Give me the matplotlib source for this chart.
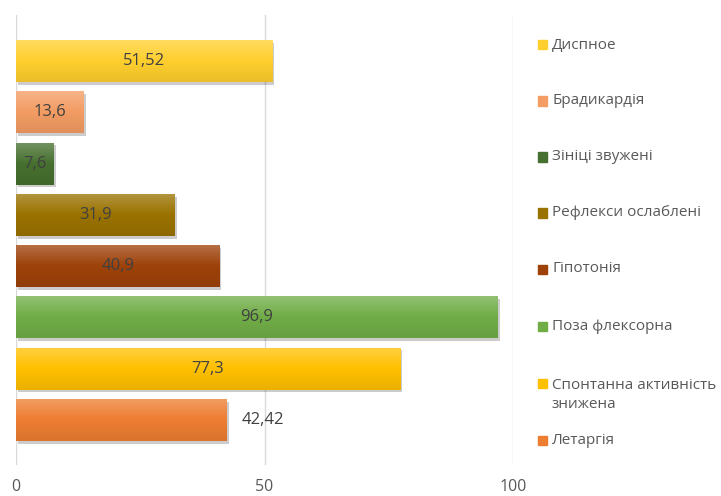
import numpy as np
import matplotlib
matplotlib.use("Agg")
import matplotlib.pyplot as plt
import matplotlib.colors as mcolors
from matplotlib.patches import Rectangle
import matplotlib.patheffects as pe

plt.rcParams['font.family'] = ['Open Sans', 'DejaVu Sans']

# bottom -> top
labels = ["Летаргія", "Спонтанна активність\nзнижена", "Поза флексорна", "Гіпотонія",
          "Рефлекси ослаблені", "Зініці звужені", "Брадикардія", "Диспное"]
values = [42.42, 77.3, 96.9, 40.9, 31.9, 7.6, 13.6, 51.52]
value_text = ["42,42", "77,3", "96,9", "40,9", "31,9", "7,6", "13,6", "51,52"]
colors = ["#ED7D31", "#FFC000", "#70AD47", "#9E420A",
          "#9A7200", "#46702F", "#F39C63", "#FFCF2E"]

txt_col = "#595959"

fig = plt.figure(figsize=(7.21, 4.96), dpi=100)
ax = fig.add_axes([16 / 721, 1 - 465 / 496, (513 - 16) / 721, (465 - 15) / 496])

y = np.arange(len(values))
h = 0.82
bars = ax.barh(y, values, height=h, color=colors, zorder=2,
               path_effects=[pe.SimplePatchShadow(offset=(1.5, -2), alpha=0.2, shadow_rgbFace="#000000"),
                             pe.Normal()])

# vertical gradient on each bar (lighter top, darker bottom)
def shade(c, f):
    r = np.array(mcolors.to_rgb(c))
    if f > 1:
        return r + (1 - r) * (f - 1)
    return r * f

for b, c in zip(bars, colors):
    x0, y0 = b.get_x(), b.get_y()
    w, hh = b.get_width(), b.get_height()
    t = np.linspace(0, 1, 64)[:, None]
    top = shade(c, 1.25)
    mid = shade(c, 1.0)
    bot = shade(c, 0.92)
    grad = np.where(t < 0.5, top + (mid - top) * (t / 0.5), mid + (bot - mid) * ((t - 0.5) / 0.5))
    img = grad[::-1][:, None, :].repeat(2, axis=1)
    im = ax.imshow(img, extent=(x0, x0 + w, y0, y0 + hh), origin="lower", aspect="auto", zorder=3)
    im.set_clip_path(b)

for i, (v, s) in enumerate(zip(values, value_text)):
    if i == 0:
        ax.text(v + 3, i, s, ha="left", va="center", fontsize=12, color="#404040", zorder=4)
    else:
        ax.text(v / 2, i, s, ha="center", va="center", fontsize=12, color="#404040", zorder=4)

ax.set_xlim(0, 100)
ax.set_ylim(-0.88, 7.9)
ax.set_xticks([0, 50, 100])
ax.set_yticks([])
ax.grid(axis="x", color="#D9D9D9", linewidth=1, zorder=0)
ax.tick_params(axis="x", length=0, pad=10, labelsize=11.5, labelcolor=txt_col)
for sp in ax.spines.values():
    sp.set_visible(False)

# legend, manual placement (pixel positions of entries)
leg_y = [45, 101, 157, 213, 269, 326, 383, 440]
for yy, lab, c in zip(leg_y[::-1], labels, colors):
    fy = 1 - yy / 496
    fig.add_artist(Rectangle((538 / 721, fy - 4.5 / 496), 9 / 721, 9 / 496,
                             transform=fig.transFigure, color=c))
    ty = fy - 12 / 496 if "\n" in lab else fy
    fig.text(552 / 721, ty, lab, ha="left", va="center", fontsize=11,
             color=txt_col, linespacing=1.45)

fig.savefig("out.png", dpi=100)
